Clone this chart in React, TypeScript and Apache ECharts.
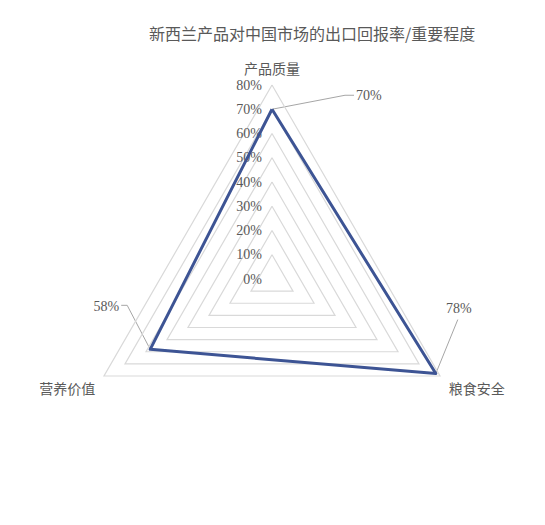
import React, { useEffect, useRef } from 'react';
import * as echarts from 'echarts';

const titleText = '新西兰产品对中国市场的出口回报率/重要程度';
// ECharts lays indicators out counter-clockwise from the top
const indicators = ['产品质量', '营养价值', '粮食安全'];
const values = [70, 58, 78];
const axisMax = 80;
const axisStep = 10;

const CENTER = [272, 279];
const RADIUS = 194;

// where each data label sits relative to its vertex (leader line elbow, line end, text anchor)
const labelLayout = [
  { elbow: [73, -14], end: [82, -14], text: [84, -14], align: 'left' },
  { elbow: [-23, -44], end: [-29, -44], text: [-31, -43], align: 'right' },
  { elbow: [22, -54], end: [22, -54], text: [23, -65], align: 'center' },
];

const CJK = '"Noto Sans CJK SC", sans-serif';
const SERIF = '"Liberation Serif", "DejaVu Serif", serif';

const App: React.FC = () => {
  const chartRef = useRef<HTMLDivElement>(null);

  useEffect(() => {
    document.body.style.margin = '0';
    if (!chartRef.current) return;
    const chart = echarts.init(chartRef.current, null, { renderer: 'svg' });

    const n = indicators.length;
    const vertices = values.map((v, i) => {
      const a = Math.PI / 2 + (i * 2 * Math.PI) / n;
      const r = (RADIUS * v) / axisMax;
      return [CENTER[0] + r * Math.cos(a), CENTER[1] - r * Math.sin(a)];
    });

    const graphics: any[] = [];
    vertices.forEach(([x, y], i) => {
      const l = labelLayout[i];
      graphics.push({
        type: 'polyline',
        silent: true,
        shape: {
          points: [
            [x, y],
            [x + l.elbow[0], y + l.elbow[1]],
            [x + l.end[0], y + l.end[1]],
          ],
        },
        style: { stroke: '#a6a6a6', lineWidth: 1, fill: null },
      });
      graphics.push({
        type: 'text',
        silent: true,
        x: x + l.text[0],
        y: y + l.text[1],
        style: {
          text: values[i] + '%',
          fill: '#595959',
          font: '14px ' + SERIF,
          align: l.align,
          verticalAlign: 'middle',
        },
      });
    });

    const option = {
      animation: false,
      backgroundColor: '#ffffff',
      title: {
        text: titleText,
        left: 144,
        top: 20,
        textStyle: {
          color: '#595959',
          fontSize: 16,
          fontWeight: 'normal',
          fontFamily: CJK,
        },
      },
      radar: {
        center: CENTER,
        radius: RADIUS,
        shape: 'polygon',
        splitNumber: axisMax / axisStep,
        nameGap: 10,
        axisName: {
          color: '#595959',
          fontSize: 14,
          lineHeight: 14,
          fontFamily: CJK,
          // the two lower names sit a little below their vertex
          formatter: (name: string) => (name === indicators[0] ? name : '\n' + name),
        },
        indicator: indicators.map((name) => ({ name, min: 0, max: axisMax })),
        axisLine: { show: false },
        axisTick: { show: false },
        axisLabel: { show: false },
        splitLine: { lineStyle: { color: '#d9d9d9', width: 1.2 } },
        splitArea: { show: false },
      },
      // hidden grid along the top axis that carries the tick labels
      grid: { left: CENTER[0], top: CENTER[1] - RADIUS, width: 1, height: RADIUS },
      xAxis: { type: 'value', show: false },
      yAxis: {
        type: 'value',
        min: 0,
        max: axisMax,
        interval: axisStep,
        axisLine: { show: false },
        axisTick: { show: false },
        splitLine: { show: false },
        axisLabel: {
          formatter: '{value}%',
          margin: 10,
          color: '#595959',
          fontSize: 14,
          fontFamily: SERIF,
        },
      },
      series: [
        {
          type: 'radar',
          symbol: 'none',
          lineStyle: { color: '#3d5494', width: 3 },
          itemStyle: { color: '#3d5494' },
          data: [{ value: values, name: '出口回报率/重要程度' }],
        },
      ],
      graphic: graphics,
    };

    chart.setOption(option);
    return () => {
      chart.dispose();
    };
  }, []);

  return <div ref={chartRef} style={{ width: '545px', height: '525px' }}></div>;
};

export default App;
